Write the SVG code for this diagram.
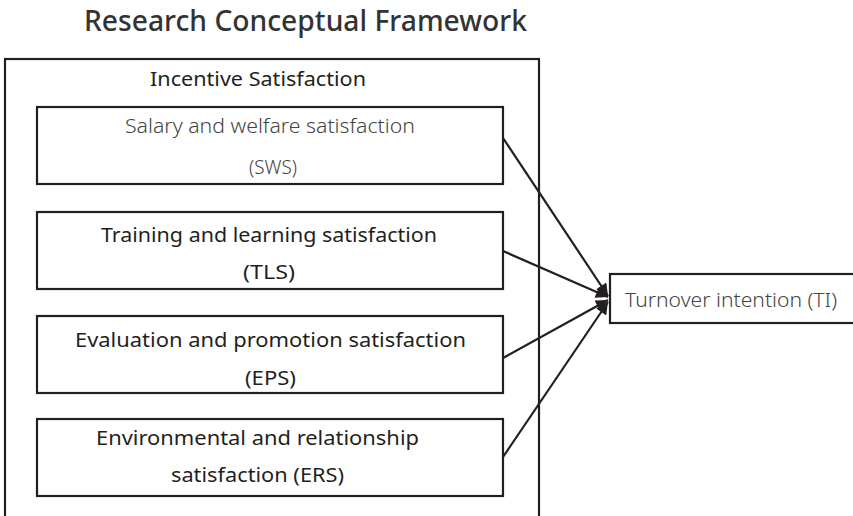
<svg xmlns="http://www.w3.org/2000/svg" width="853" height="516" viewBox="0 0 853 516">
<defs>
<style>
.box{fill:#fff;stroke:#231f20;stroke-width:2.2}
.t{font-family:"Noto Sans","Open Sans","DejaVu Sans",sans-serif;fill:#231f20}
.lt{font-family:"Noto Sans","Open Sans","DejaVu Sans",sans-serif;fill:#444;font-weight:300}
.ln{stroke:#231f20;stroke-width:2.2;fill:none;marker-end:url(#ah)}
</style>
<marker id="ah" viewBox="0 0 10 10" refX="10" refY="5" markerWidth="7.5" markerHeight="5.5" orient="auto" markerUnits="strokeWidth">
<path d="M0,0 L10,5 L0,10 Z" fill="#231f20"/>
</marker>
</defs>
<rect width="853" height="516" fill="#fff"/>
<text class="t" x="84" y="31" font-size="28" font-weight="500" style="fill:#333" textLength="443" lengthAdjust="spacingAndGlyphs">Research Conceptual Framework</text>
<g id="incentive">
<rect class="box" x="5" y="59" width="534" height="480"/>
<text class="t" x="150" y="86" font-size="20" textLength="216" lengthAdjust="spacingAndGlyphs">Incentive Satisfaction</text>
</g>
<g id="sws">
<rect class="box" x="37" y="107" width="466" height="77"/>
<text class="lt" x="125" y="133" font-size="20" textLength="290" lengthAdjust="spacingAndGlyphs">Salary and welfare satisfaction</text>
<text class="lt" x="249" y="174" font-size="20" textLength="48" lengthAdjust="spacingAndGlyphs">(SWS)</text>
</g>
<g id="tls">
<rect class="box" x="37" y="212" width="466" height="77"/>
<text class="t" x="101" y="242" font-size="20" textLength="336" lengthAdjust="spacingAndGlyphs">Training and learning satisfaction</text>
<text class="t" x="243" y="279" font-size="20" textLength="52" lengthAdjust="spacingAndGlyphs">(TLS)</text>
</g>
<g id="eps">
<rect class="box" x="37" y="316" width="466" height="77"/>
<text class="t" x="75" y="347" font-size="20" textLength="391" lengthAdjust="spacingAndGlyphs">Evaluation and promotion satisfaction</text>
<text class="t" x="245" y="385" font-size="20" textLength="51" lengthAdjust="spacingAndGlyphs">(EPS)</text>
</g>
<g id="ers">
<rect class="box" x="37" y="419" width="466" height="77"/>
<text class="t" x="96" y="445" font-size="20" textLength="323" lengthAdjust="spacingAndGlyphs">Environmental and relationship</text>
<text class="t" x="171" y="482" font-size="20" textLength="173" lengthAdjust="spacingAndGlyphs">satisfaction (ERS)</text>
</g>
<g id="ti">
<rect class="box" x="610" y="274" width="260" height="49"/>
<text class="lt" x="625" y="307" font-size="20" textLength="212" lengthAdjust="spacingAndGlyphs">Turnover intention (TI)</text>
</g>
<g id="connectors">
<line class="ln" x1="503" y1="138" x2="608" y2="296"/>
<line class="ln" x1="503" y1="251" x2="608" y2="297"/>
<line class="ln" x1="503" y1="358" x2="608" y2="300"/>
<line class="ln" x1="503" y1="457" x2="608" y2="302"/>
</g>
</svg>
